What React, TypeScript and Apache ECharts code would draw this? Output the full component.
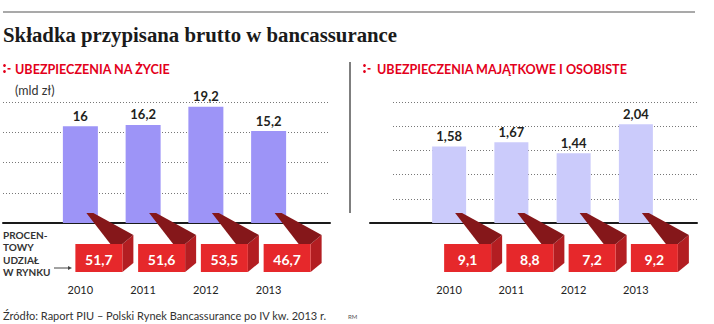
import React, { useEffect, useRef } from "react";
import * as echarts from "echarts";

const years = ["2010", "2011", "2012", "2013"];
const lifePremium = [16, 16.2, 19.2, 15.2];
const lifeShare = [51.7, 51.6, 53.5, 46.7];
const propertyPremium = [1.58, 1.67, 1.44, 2.04];
const propertyShare = [9.1, 8.8, 7.2, 9.2];

const TITLE = "Składka przypisana brutto w bancassurance";
const LEFT_TITLE = "UBEZPIECZENIA NA ŻYCIE";
const RIGHT_TITLE = "UBEZPIECZENIA MAJĄTKOWE I OSOBISTE";
const UNIT = "(mld zł)";
const SHARE_LABEL = ["PROCEN-", "TOWY", "UDZIAŁ", "W RYNKU"];
const SOURCE = "Źródło: Raport PIU – Polski Rynek Bancassurance po IV kw. 2013 r.";

const SANS = "Lato, 'Open Sans', sans-serif";
const fmt = (v: number) => String(v).replace(".", ",");

const GRID_TOP = 102;
const GRID_H = 121;

function boxRender(params: any, api: any) {
  const i = api.value(0);
  const v = api.value(1);
  const p = api.coord([i, 0]);
  const cx = p[0];
  const by = p[1];
  const fl = cx - 5;
  const fr = cx + 42;
  const ft = by + 21;
  const fb = by + 49;
  const sr = cx + 53;
  const st = by + 12;
  const sb = by + 40;
  return {
    type: "group",
    children: [
      {
        type: "polygon",
        shape: { points: [[fr, ft], [sr, st], [sr, sb], [fr, fb]] },
        style: { fill: "#b31e22" },
      },
      {
        type: "polygon",
        shape: { points: [[fl, ft], [fr, ft], [fr, fb], [fl, fb]] },
        style: { fill: "#e6282b" },
      },
      {
        type: "polygon",
        shape: {
          points: [
            [cx + 6, by - 10],
            [cx + 13, by - 10],
            [sr, st],
            [fr, ft],
            [cx + 30, ft],
          ],
        },
        style: { fill: "#85171a" },
      },
      {
        type: "text",
        style: {
          text: fmt(v),
          x: (fl + fr) / 2,
          y: (ft + fb) / 2 + 1,
          align: "center",
          verticalAlign: "middle",
          fill: "#ffffff",
          fontFamily: SANS,
          fontWeight: "bold",
          fontSize: 14,
        },
      },
    ],
  };
}

export default function App() {
  const ref = useRef<HTMLDivElement>(null);

  useEffect(() => {
    document.body.style.margin = "0";
    if (!ref.current) return;
    const chart = echarts.init(ref.current, null, { renderer: "svg" });

    const dotted = { color: "#777", width: 1, type: [1, 2] as any };

    const hiddenCat = (gridIndex: number) => ({
      type: "category" as const,
      gridIndex,
      data: years,
      show: false,
    });

    const yearLabel = {
      margin: 61,
      color: "#222",
      fontFamily: SANS,
      fontSize: 11,
    };

    const valueLabel = {
      show: true,
      position: "top",
      distance: 4,
      formatter: (p: any) => fmt(p.value),
      color: "#231f20",
      fontFamily: SANS,
      fontWeight: "bold",
      fontSize: 13,
    };

    const option: any = {
      animation: false,
      backgroundColor: "#ffffff",
      grid: [
        { left: 3, top: GRID_TOP, width: 327, height: GRID_H },
        { left: 49, top: GRID_TOP, width: 251, height: GRID_H },
        { left: 393, top: GRID_TOP, width: 304, height: GRID_H },
        { left: 418, top: GRID_TOP, width: 249, height: GRID_H },
        { left: 370, top: GRID_TOP, width: 327, height: GRID_H },
      ],
      xAxis: [
        {
          type: "category",
          gridIndex: 0,
          data: years,
          axisLine: { show: true, lineStyle: { color: "#1a1a1a", width: 2 } },
          axisTick: { show: false },
          axisLabel: { show: false },
        },
        {
          type: "category",
          gridIndex: 1,
          data: years,
          axisLine: { show: false },
          axisTick: { show: false },
          axisLabel: yearLabel,
        },
        hiddenCat(2),
        {
          type: "category",
          gridIndex: 3,
          data: years,
          axisLine: { show: false },
          axisTick: { show: false },
          axisLabel: yearLabel,
        },
        {
          type: "category",
          gridIndex: 4,
          data: years,
          axisLine: { show: true, lineStyle: { color: "#1a1a1a", width: 2 } },
          axisTick: { show: false },
          axisLabel: { show: false },
        },
      ],
      yAxis: [
        {
          type: "value",
          gridIndex: 0,
          min: 0,
          max: 20,
          interval: 5,
          axisLine: { show: false },
          axisTick: { show: false },
          axisLabel: { show: false },
          splitLine: { show: true, lineStyle: dotted },
        },
        { type: "value", gridIndex: 1, min: 0, max: 20, show: false, splitLine: { show: false } },
        {
          type: "value",
          gridIndex: 2,
          min: 0,
          max: 2.5,
          interval: 0.5,
          axisLine: { show: false },
          axisTick: { show: false },
          axisLabel: { show: false },
          splitLine: { show: true, lineStyle: dotted },
        },
        { type: "value", gridIndex: 3, min: 0, max: 2.5, show: false, splitLine: { show: false } },
        { type: "value", gridIndex: 4, min: 0, max: 2.5, show: false, splitLine: { show: false } },
      ],
      series: [
        {
          type: "bar",
          xAxisIndex: 1,
          yAxisIndex: 1,
          data: lifePremium,
          barWidth: 35,
          itemStyle: { color: "#9d94f7" },
          label: valueLabel,
          z: 3,
        },
        {
          type: "bar",
          xAxisIndex: 3,
          yAxisIndex: 3,
          data: propertyPremium,
          barWidth: 34,
          itemStyle: { color: "#cbcbfb" },
          label: valueLabel,
          z: 3,
        },
        {
          type: "custom",
          xAxisIndex: 1,
          yAxisIndex: 1,
          data: lifeShare.map((v, i) => [i, v]),
          renderItem: boxRender,
          clip: false,
          z: 5,
        },
        {
          type: "custom",
          xAxisIndex: 3,
          yAxisIndex: 3,
          data: propertyShare.map((v, i) => [i, v]),
          renderItem: boxRender,
          clip: false,
          z: 5,
        },
      ],
      graphic: [
        {
          type: "line",
          shape: { x1: 3, y1: 12, x2: 695, y2: 12 },
          style: { stroke: "#8c8c8c", lineWidth: 1.5 },
        },
        {
          type: "text",
          style: {
            text: TITLE,
            x: 3,
            y: 34,
            verticalAlign: "middle",
            fill: "#1a1a1a",
            fontFamily: "'Liberation Serif', serif",
            fontWeight: "bold",
            fontSize: 20.8,
          },
        },
        { type: "circle", shape: { cx: 4.5, cy: 65.5, r: 1.4 }, style: { fill: "#e3001b" } },
        { type: "circle", shape: { cx: 4.5, cy: 71.5, r: 1.4 }, style: { fill: "#e3001b" } },
        { type: "rect", shape: { x: 7.5, y: 68, width: 3, height: 1.6 }, style: { fill: "#e3001b" } },
        {
          type: "text",
          style: {
            text: LEFT_TITLE,
            x: 15,
            y: 69,
            verticalAlign: "middle",
            fill: "#e3001b",
            fontFamily: SANS,
            fontWeight: "bold",
            fontSize: 12.6,
          },
        },
        { type: "circle", shape: { cx: 364.5, cy: 65.5, r: 1.4 }, style: { fill: "#e3001b" } },
        { type: "circle", shape: { cx: 364.5, cy: 71.5, r: 1.4 }, style: { fill: "#e3001b" } },
        { type: "rect", shape: { x: 367.5, y: 68, width: 3, height: 1.6 }, style: { fill: "#e3001b" } },
        {
          type: "text",
          style: {
            text: RIGHT_TITLE,
            x: 377,
            y: 69,
            verticalAlign: "middle",
            fill: "#e3001b",
            fontFamily: SANS,
            fontWeight: "bold",
            fontSize: 12.6,
          },
        },
        {
          type: "text",
          style: {
            text: UNIT,
            x: 15,
            y: 90,
            verticalAlign: "middle",
            fill: "#333",
            fontFamily: SANS,
            fontSize: 12.5,
          },
        },
        {
          type: "line",
          shape: { x1: 350, y1: 62, x2: 350, y2: 213 },
          style: { stroke: "#555", lineWidth: 1.5 },
        },
        ...SHARE_LABEL.map((t, k) => ({
          type: "text",
          style: {
            text: t,
            x: 3,
            y: 235 + k * 12.3,
            verticalAlign: "middle",
            fill: "#333",
            fontFamily: SANS,
            fontWeight: "bold",
            fontSize: 10,
          },
        })),
        {
          type: "line",
          shape: { x1: 54, y1: 268, x2: 69, y2: 268 },
          style: { stroke: "#444", lineWidth: 1 },
        },
        {
          type: "polygon",
          shape: { points: [[68, 266], [72, 268], [68, 270]] },
          style: { fill: "#444" },
        },
        {
          type: "text",
          style: {
            text: SOURCE,
            x: 3,
            y: 315,
            verticalAlign: "middle",
            fill: "#333",
            fontFamily: SANS,
            fontSize: 11,
          },
        },
        {
          type: "text",
          style: {
            text: "RM",
            x: 348,
            y: 316,
            verticalAlign: "middle",
            fill: "#555",
            fontFamily: SANS,
            fontSize: 6,
          },
        },
      ],
    };

    chart.setOption(option);
    return () => chart.dispose();
  }, []);

  return (
    <div
      ref={ref}
      style={{ position: "fixed", left: 0, top: 0, width: 714, height: 324 }}
    />
  );
}
